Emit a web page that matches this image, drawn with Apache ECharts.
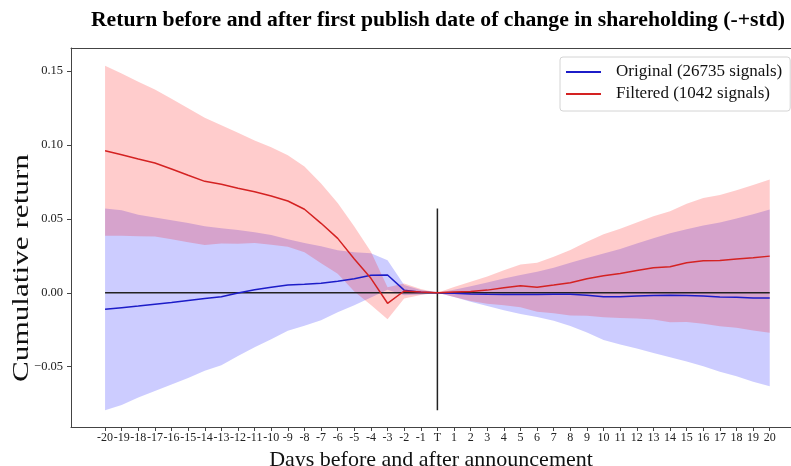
<!DOCTYPE html>
<html>
<head>
<meta charset="utf-8">
<script src="https://cdn.jsdelivr.net/npm/echarts@6/dist/echarts.min.js"></script>
<style>
  html, body { margin: 0; padding: 0; background: #fff; }
  #chart { width: 791px; height: 466px; }
</style>
</head>
<body>
<div id="chart"></div>
<script>
// Event window: days relative to the announcement date (T = day 0)
const days = [-20, -19, -18, -17, -16, -15, -14, -13, -12, -11, -10, -9, -8, -7, -6, -5, -4, -3, -2, -1,
  0, 1, 2, 3, 4, 5, 6, 7, 8, 9, 10, 11, 12, 13, 14, 15, 16, 17, 18, 19, 20];
const dayLabels = ['-20', '-19', '-18', '-17', '-16', '-15', '-14', '-13', '-12', '-11', '-10', '-9', '-8', '-7',
  '-6', '-5', '-4', '-3', '-2', '-1', 'T', '1', '2', '3', '4', '5', '6', '7', '8', '9', '10', '11', '12', '13',
  '14', '15', '16', '17', '18', '19', '20'];
const yTicks = [-0.05, 0, 0.05, 0.10, 0.15];

// Original signals: mean cumulative return and its standard deviation
const originalMean = [-0.0112, -0.0101, -0.0090, -0.0077, -0.0065, -0.0052, -0.0039, -0.0027, -0.0001, 0.0020,
  0.0038, 0.0053, 0.0057, 0.0064, 0.0078, 0.0095, 0.0118, 0.0120, 0.0018, 0.0004,
  0, -0.0004, -0.0008, -0.0010, -0.0011, -0.0011, -0.0011, -0.0010, -0.0010, -0.0016,
  -0.0027, -0.0027, -0.0022, -0.0019, -0.0017, -0.0018, -0.0021, -0.0029, -0.0031, -0.0035, -0.0035];
const originalStd = [0.0683, 0.0659, 0.0618, 0.0587, 0.0555, 0.0524, 0.0489, 0.0463, 0.0426, 0.0389,
  0.0353, 0.0310, 0.0280, 0.0250, 0.0210, 0.0180, 0.0150, 0.0100, 0.0035, 0.0015,
  0, 0.0025, 0.0053, 0.0080, 0.0108, 0.0132, 0.0153, 0.0180, 0.0214, 0.0252,
  0.0293, 0.0323, 0.0355, 0.0388, 0.0419, 0.0447, 0.0476, 0.0505, 0.0534, 0.0567, 0.0598];

// Filtered signals: mean cumulative return and its standard deviation
const filteredMean = [0.0961, 0.0934, 0.0905, 0.0878, 0.0837, 0.0795, 0.0754, 0.0734, 0.0707, 0.0684,
  0.0655, 0.0621, 0.0565, 0.0470, 0.0368, 0.0229, 0.0098, -0.0071, 0.0012, 0.0005,
  0, 0.0005, 0.0009, 0.0018, 0.0034, 0.0047, 0.0038, 0.0052, 0.0068, 0.0095,
  0.0115, 0.0131, 0.0151, 0.0169, 0.0176, 0.0203, 0.0216, 0.0218, 0.0228, 0.0237, 0.0248];
const filteredStd = [0.0575, 0.0549, 0.0523, 0.0497, 0.0475, 0.0453, 0.0430, 0.0400, 0.0376, 0.0347,
  0.0330, 0.0310, 0.0290, 0.0270, 0.0240, 0.0220, 0.0180, 0.0108, 0.0050, 0.0020,
  0, 0.0034, 0.0065, 0.0093, 0.0118, 0.0145, 0.0166, 0.0191, 0.0221, 0.0250,
  0.0281, 0.0302, 0.0325, 0.0349, 0.0376, 0.0400, 0.0425, 0.0444, 0.0465, 0.0492, 0.0519];

const ORIGINAL_NAME = 'Original (26735 signals)';
const FILTERED_NAME = 'Filtered (1042 signals)';
const SERIF = '"Liberation Serif", "DejaVu Serif", serif';

// Shaded mean +- std band drawn as one polygon through the axis scales
function bandSeries(mean, std, fill) {
  const rows = days.map((d, i) => [d, mean[i] - std[i], mean[i] + std[i]]);
  return {
    type: 'custom',
    data: rows,
    encode: { x: 0, y: [1, 2] },
    silent: true,
    z: 1,
    renderItem(params, api) {
      if (params.dataIndex !== 0) return null;
      const pts = [];
      for (let i = 0; i < rows.length; i++) pts.push(api.coord([rows[i][0], rows[i][2]]));
      for (let i = rows.length - 1; i >= 0; i--) pts.push(api.coord([rows[i][0], rows[i][1]]));
      return { type: 'polygon', shape: { points: pts }, style: { fill: fill } };
    }
  };
}

function meanSeries(name, mean, color) {
  return {
    name: name,
    type: 'line',
    data: days.map((d, i) => [d, mean[i]]),
    showSymbol: false,
    symbol: 'none',
    lineStyle: { color: color, width: 1.5 },
    itemStyle: { color: color },
    z: 5
  };
}

// Vertical marker at T spans the range of the original band
const origLow = Math.min(...originalMean.map((m, i) => m - originalStd[i]));
const origHigh = Math.max(...originalMean.map((m, i) => m + originalStd[i]));

const chart = echarts.init(document.getElementById('chart'), null, { renderer: 'canvas' });
chart.setOption({
  animation: false,
  backgroundColor: '#ffffff',
  title: {
    text: 'Return before and after first publish date of change in shareholding (-+std)',
    left: 433,
    top: 4,
    textAlign: 'center',
    textStyle: { fontFamily: SERIF, fontWeight: 'bold', fontSize: 21.7, color: '#000' }
  },
  legend: {
    data: [ORIGINAL_NAME, FILTERED_NAME],
    orient: 'vertical',
    left: 560,
    top: 57,
    icon: 'rect',
    itemWidth: 35,
    itemHeight: 2,
    itemGap: 2,
    padding: [5, 8, 7, 6],
    borderColor: '#d4d4d4',
    borderWidth: 1,
    borderRadius: 3,
    backgroundColor: 'rgba(255,255,255,0.8)',
    textStyle: { fontFamily: SERIF, fontSize: 17, color: '#111', lineHeight: 20, padding: [0, 0, 0, 10] }
  },
  grid: { left: 71, right: 0, top: 48, bottom: 39, containLabel: false, outerBoundsMode: 'none' },
  xAxis: [{
    type: 'value',
    min: -22.05,
    max: 21.28,
    axisLine: { show: true, onZero: false, lineStyle: { color: '#444', width: 1 } },
    axisTick: { show: true, length: 4, customValues: days, lineStyle: { color: '#444' } },
    axisLabel: {
      customValues: days,
      margin: 5,
      fontFamily: SERIF,
      fontSize: 12,
      color: '#222',
      formatter: (v) => dayLabels[days.indexOf(Math.round(v))]
    },
    splitLine: { show: false },
    name: 'Days before and after announcement',
    nameLocation: 'middle',
    nameGap: 17,
    nameTextStyle: { fontFamily: SERIF, fontSize: 22, color: '#111', verticalAlign: 'top' }
  }, {
    type: 'value',
    position: 'top',
    min: -22.05,
    max: 21.28,
    axisLine: { show: true, onZero: false, lineStyle: { color: '#444', width: 1 } },
    axisTick: { show: false },
    axisLabel: { show: false },
    splitLine: { show: false }
  }],
  yAxis: {
    type: 'value',
    min: -0.0908,
    max: 0.1656,
    axisLine: { show: true, onZero: false, lineStyle: { color: '#444', width: 1 } },
    axisTick: { show: true, length: 4, customValues: yTicks, lineStyle: { color: '#444' } },
    axisLabel: {
      customValues: yTicks,
      margin: 8,
      fontFamily: SERIF,
      fontSize: 12.5,
      color: '#222',
      formatter: (v) => (v < 0 ? '\u2212' + Math.abs(v).toFixed(2) : v.toFixed(2))
    },
    splitLine: { show: false }
  },
  graphic: [{
    type: 'text',
    x: 22,
    y: 268,
    rotation: Math.PI / 2,
    scaleX: 1.3,
    style: {
      text: 'Cumulative return',
      font: '24px ' + SERIF,
      fill: '#111',
      align: 'center',
      verticalAlign: 'middle'
    }
  }],
  series: [
    bandSeries(originalMean, originalStd, 'rgba(0,0,255,0.2)'),
    bandSeries(filteredMean, filteredStd, 'rgba(255,0,0,0.2)'),
    {
      type: 'line',
      data: [[days[0], 0], [days[days.length - 1], 0]],
      showSymbol: false,
      symbol: 'none',
      silent: true,
      lineStyle: { color: '#222', width: 1.5 },
      z: 3
    },
    {
      type: 'line',
      data: [[0, origLow], [0, origHigh]],
      showSymbol: false,
      symbol: 'none',
      silent: true,
      lineStyle: { color: '#222', width: 1.5 },
      z: 3
    },
    meanSeries(ORIGINAL_NAME, originalMean, '#1c1cc8'),
    meanSeries(FILTERED_NAME, filteredMean, '#d42222')
  ]
});
</script>
</body>
</html>
